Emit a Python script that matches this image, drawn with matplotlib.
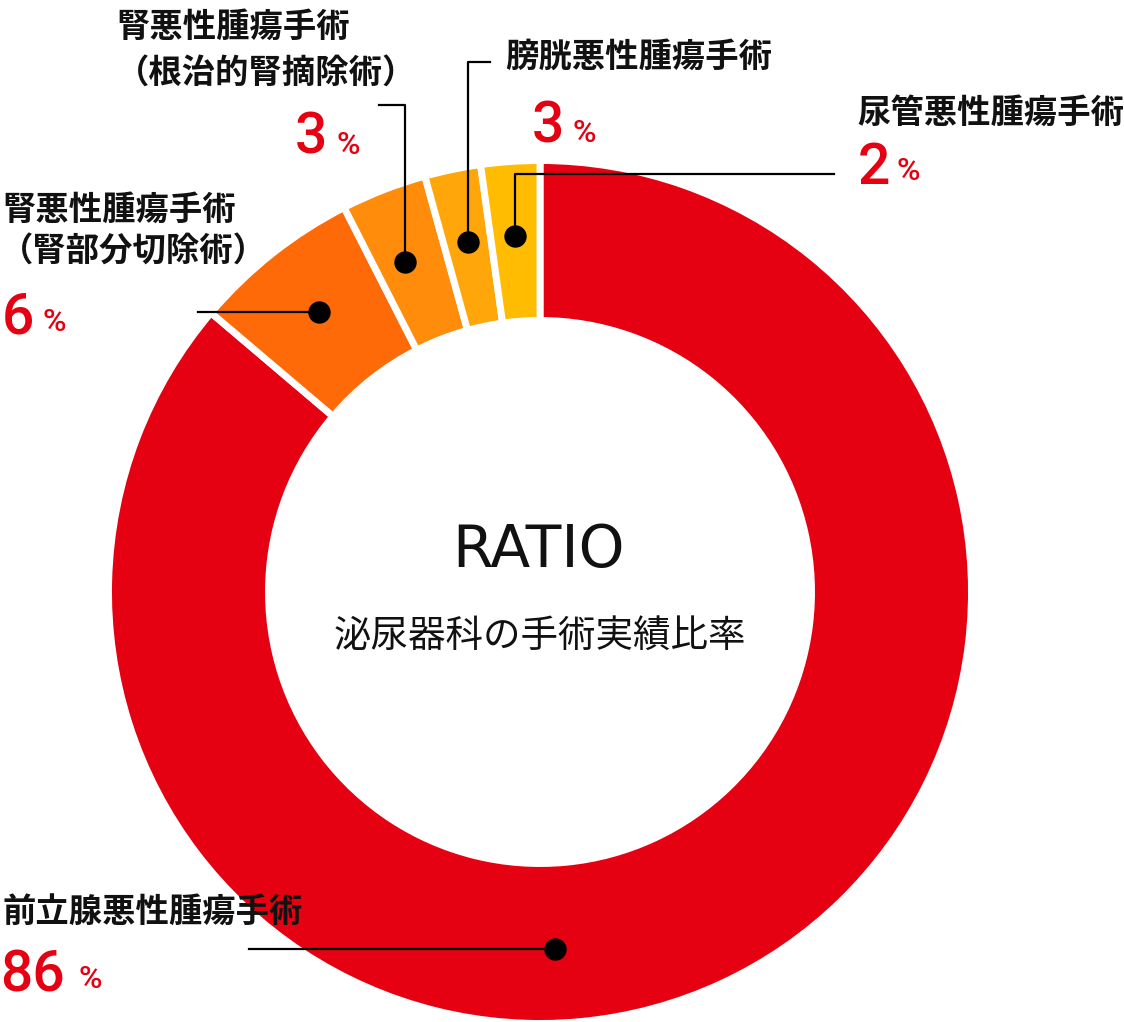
import numpy as np
import matplotlib
matplotlib.use("Agg")
import matplotlib.pyplot as plt

# ---- data ----
categories = ["前立腺悪性腫瘍手術", "腎悪性腫瘍手術（腎部分切除術）",
              "腎悪性腫瘍手術（根治的腎摘除術）", "膀胱悪性腫瘍手術", "尿管悪性腫瘍手術"]
values = [86.2, 6.3, 3.2, 2.1, 2.2]          # slice sizes as drawn
value_labels = ["86", "6", "3", "3", "2"]    # printed percentages
colors = ["#E50012", "#FF6A08", "#FF8C0A", "#FFA60A", "#FFBC00"]

W, H = 1124, 1022
fig = plt.figure(figsize=(W / 100, H / 100), dpi=100)
ax = fig.add_axes([0, 0, 1, 1])

def Y(y):
    return H - y

cx, cy = 540, Y(592)
R_out, R_in = 431.5, 271.5
ax.pie(values, colors=colors, startangle=90, counterclock=False,
       radius=R_out, center=(cx, cy), frame=True,
       wedgeprops=dict(width=R_out - R_in, edgecolor="white", linewidth=5))
ax.set_xlim(0, W)
ax.set_ylim(0, H)
ax.set_aspect("equal")
ax.axis("off")

# dot positions from wedge mid-angles
total = sum(values)
angles = []
start = 90.0
for v in values:
    span = 360.0 * v / total
    angles.append(start - span / 2)
    start -= span
angles[0] = -87.6  # anchor for the large wedge placed under the centre
angles[2] += 1.0
r_dot = 357
dots = [(cx + r_dot * np.cos(np.radians(a)), cy + r_dot * np.sin(np.radians(a))) for a in angles]

# leader lines (pixel layout of the label ends)
lw = 1.6
d = dots[0]
ax.plot([249, d[0]], [d[1], d[1]], color="black", lw=lw, zorder=5)
d = dots[1]
ax.plot([198, d[0]], [d[1], d[1]], color="black", lw=lw, zorder=5)
d = dots[2]
ax.plot([379, d[0], d[0]], [Y(105), Y(105), d[1]], color="black", lw=lw, zorder=5)
d = dots[3]
ax.plot([490, d[0], d[0]], [Y(62), Y(62), d[1]], color="black", lw=lw, zorder=5)
d = dots[4]
ax.plot([834, d[0], d[0]], [Y(174), Y(174), d[1]], color="black", lw=lw, zorder=5)

for d in dots:
    ax.scatter([d[0]], [d[1]], s=260, color="black", zorder=6, linewidths=0)

JP = ["Noto Sans CJK JP", "DejaVu Sans"]
NUM = ["Roboto", "DejaVu Sans"]
RED = "#E50012"
TXT = "#111111"
lab_fs = 24

def label(x, y, s, ha="left"):
    ax.text(x, Y(y), s, family=JP, fontsize=lab_fs, fontweight="bold",
            color=TXT, ha=ha, va="center")

def pct(x, base, num, xp, pbase):
    ax.text(x - 3, Y(base), num, family=NUM, fontsize=41,
            fontweight="medium", color=RED, ha="left", va="baseline")
    ax.text(xp - 2, Y(pbase), "%", family=NUM, fontsize=23,
            fontweight="medium", color=RED, ha="left", va="baseline")

# labels
label(116, 27, "腎悪性腫瘍手術")
label(116, 73, "（根治的腎摘除術）")
pct(298, 153, value_labels[2], 338, 154)

label(505, 57, categories[3])
pct(535, 142, value_labels[3], 575, 142)

label(857, 113, categories[4])
pct(861, 184, value_labels[4], 899, 180)

label(2, 210, "腎悪性腫瘍手術")
label(0, 252, "（腎部分切除術）")
pct(5, 333, value_labels[1], 44, 331)

label(2, 912, categories[0])
pct(3, 992, value_labels[0], 80, 988)

# centre text
ax.text(539, Y(551), "RATIO", family=["DejaVu Sans"], fontsize=42,
        color=TXT, ha="center", va="center")
ax.text(540, Y(636), "泌尿器科の手術実績比率", family=JP, fontsize=27,
        color=TXT, ha="center", va="center")

fig.savefig("out.png", dpi=100)
